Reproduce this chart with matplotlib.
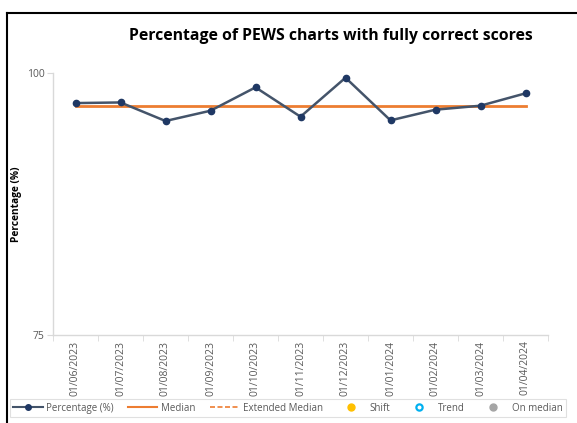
import matplotlib
matplotlib.use("Agg")
import matplotlib.pyplot as plt
from matplotlib.lines import Line2D

dates = ["01/06/2023", "01/07/2023", "01/08/2023", "01/09/2023", "01/10/2023",
         "01/11/2023", "01/12/2023", "01/01/2024", "01/02/2024", "01/03/2024",
         "01/04/2024"]
percentage = [97.13, 97.19, 95.42, 96.40, 98.63, 95.83, 99.55, 95.48, 96.50, 96.88, 98.06]
median = [96.88] * len(dates)
y_ticks = [75, 100]

W, H = 577, 423
fig = plt.figure(figsize=(W / 100, H / 100), dpi=100)
ax = fig.add_axes([53 / W, 1 - 335 / H, (548 - 53) / W, (335 - 73) / H])

x = list(range(len(dates)))
ax.plot(x, median, color="#ed7d31", lw=2.0, zorder=2)
ax.plot(x, percentage, color="#44546a", lw=1.8, marker="o", ms=4.5,
        mfc="#1f3864", mec="#1f3864", zorder=3)

ax.set_xlim(-0.5, len(dates) - 0.5)
ax.set_ylim(75, 100)
ax.set_yticks(y_ticks)
ax.set_yticklabels([str(v) for v in y_ticks], fontsize=7.5, color="#595959", family="Open Sans")
ax.set_xticks(x)
ax.set_xticklabels(dates, rotation=90, fontsize=7.5, color="#595959", family="Open Sans")
ax.tick_params(axis="x", length=0, pad=4)
ax.set_xticks([i - 0.5 for i in range(len(dates) + 1)], minor=True)
ax.tick_params(axis="x", which="minor", length=4, color="#d9d9d9", direction="out")
ax.tick_params(axis="y", length=4, color="#d9d9d9", pad=2)

for s in ["top", "right"]:
    ax.spines[s].set_visible(False)
for s in ["left", "bottom"]:
    ax.spines[s].set_color("#d9d9d9")
    ax.spines[s].set_linewidth(1.0)

ax.set_ylabel("Percentage (%)", fontsize=7.3, fontweight="bold", family="Open Sans")
ax.yaxis.set_label_coords(-0.063, 0.5)

fig.text(331 / W, 1 - 36 / H, "Percentage of PEWS charts with fully correct scores",
         ha="center", va="center", fontsize=11.3, fontweight="bold", family="Open Sans")

handles = [
    Line2D([], [], color="#44546a", lw=1.5, marker="o", ms=4, mfc="#1f3864", mec="#1f3864"),
    Line2D([], [], color="#ed7d31", lw=1.5),
    Line2D([], [], color="#ed7d31", lw=1.2, ls=(0, (3, 1.5))),
    Line2D([], [], ls="none", marker="o", ms=5, mfc="#ffc000", mec="#ffc000"),
    Line2D([], [], ls="none", marker="o", ms=4.5, mfc="white", mec="#00b0f0", mew=1.6),
    Line2D([], [], ls="none", marker="o", ms=5, mfc="#a5a5a5", mec="#a5a5a5"),
]
labels = ["Percentage (%)", "Median", "Extended Median", "Shift", "Trend", "On median"]
leg = fig.legend(handles, labels, loc="center", bbox_to_anchor=(288 / W, 1 - 408 / H),
                 ncol=6, frameon=True, fancybox=False, edgecolor="#d9d9d9",
                 prop={"family": "Open Sans", "size": 7}, handlelength=3.0,
                 columnspacing=1.45, handletextpad=0.4, borderpad=0.4)
for t in leg.get_texts():
    t.set_color("#595959")
leg.get_frame().set_linewidth(0.8)

# outer frame (left and top edges)
fig.add_artist(Line2D([7 / W, 7 / W], [0, 1 - 13 / H], color="black", lw=1.5,
                      transform=fig.transFigure))
fig.add_artist(Line2D([7 / W, 1], [1 - 13 / H, 1 - 13 / H], color="black", lw=1.5,
                      transform=fig.transFigure))

fig.savefig("out.png", dpi=100)
